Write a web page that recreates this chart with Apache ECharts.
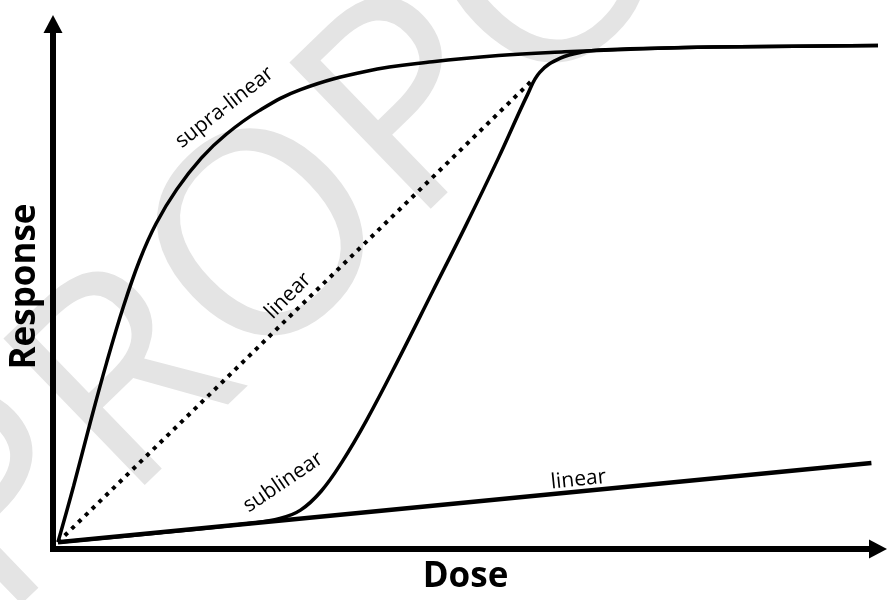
<!DOCTYPE html>
<html>
<head>
<meta charset="utf-8">
<script src="https://cdn.jsdelivr.net/npm/echarts@6.0.0/dist/echarts.min.js"></script>
<style>
  html, body { margin: 0; padding: 0; background: #fff; }
  #main { width: 887px; height: 600px; }
</style>
</head>
<body>
<div id="main"></div>
<script>
// dose / response curves (axis units 0..100)
const supraDose = [0.6, 2.5, 4.5, 6.5, 8.5, 10.5, 12.5, 15, 18, 21, 25, 30, 38, 46, 54, 62, 70, 80, 100]
const supraResp = [1.3, 12, 24, 35.5, 46, 55, 62, 68.5, 74.5, 79, 83.5, 87.5, 91, 92.8, 94, 94.7, 95.2, 95.6, 95.9]

const subDose = [0.6, 13, 24, 27.5, 30, 32.5, 35, 38, 42, 46, 50, 54, 57.5, 59, 61.5, 64.3, 67, 80, 100]
const subResp = [1.3, 3.1, 4.9, 5.8, 7.4, 11, 16.5, 24.5, 36.5, 49, 61.5, 74.5, 86.5, 90.8, 93.5, 94.7, 95.1, 95.6, 95.9]

const dottedDose = [0.6, 57.9]
const dottedResp = [1.3, 89.0]

const lowDose = [0.6, 99.2]
const lowResp = [1.3, 16.4]

// curve labels: text, anchor (dose, response), angle in degrees
const labelText = ['supra-linear', 'linear', 'sublinear', 'linear']
const labelDose = [20.8, 28.5, 27.9, 63.7]
const labelResp = [84.1, 48.2, 12.7, 13.2]
const labelAngle = [38, 45, 34, 6]

const xName = 'Dose'
const yName = 'Response'
const watermark = 'PROPOSAL'

const zip = (xs, ys) => xs.map((x, i) => [x, ys[i]])

const chart = echarts.init(document.getElementById('main'))

const curve = (name, xs, ys, extra) => Object.assign({
  name,
  type: 'line',
  data: zip(xs, ys),
  showSymbol: false,
  smooth: 0.4,
  clip: false,
  lineStyle: { color: '#000', width: 3.5 },
  z: 5
}, extra || {})

const axisLine = {
  show: true,
  symbol: ['none', 'triangle'],
  symbolSize: [19, 18],
  lineStyle: { color: '#000', width: 6, cap: 'square' }
}

chart.setOption({
  animation: false,
  backgroundColor: '#fff',
  grid: { left: 53, right: 9, top: 24, bottom: 47 },
  xAxis: {
    type: 'value', min: 0, max: 100,
    name: xName, nameLocation: 'middle', nameGap: 11,
    nameTextStyle: { fontFamily: 'Open Sans', fontWeight: 'bold', fontSize: 35, color: '#000' },
    axisLine, axisTick: { show: false }, axisLabel: { show: false }, splitLine: { show: false }
  },
  yAxis: {
    type: 'value', min: 0, max: 100,
    name: yName, nameLocation: 'middle', nameGap: 10,
    nameTextStyle: { fontFamily: 'Open Sans', fontWeight: 'bold', fontSize: 35, color: '#000' },
    axisLine, axisTick: { show: false }, axisLabel: { show: false }, splitLine: { show: false }
  },
  series: [
    curve('low linear', lowDose, lowResp, { smooth: false, lineStyle: { color: '#000', width: 4.5 } }),
    curve('linear', dottedDose, dottedResp, {
      smooth: false,
      lineStyle: { color: '#000', width: 4, type: [4, 5.5], cap: 'butt' }
    }),
    curve('sublinear', subDose, subResp),
    curve('supra-linear', supraDose, supraResp)
  ]
})

// labels sit on the curves, placed through the grid's own coordinates
const labels = labelText.map((t, i) => {
  const p = chart.convertToPixel({ gridIndex: 0 }, [labelDose[i], labelResp[i]])
  return {
    type: 'text',
    x: p[0], y: p[1],
    rotation: labelAngle[i] * Math.PI / 180,
    z: 100,
    style: {
      text: t, fill: '#000',
      fontFamily: 'Open Sans', fontSize: 21,
      align: 'center', verticalAlign: 'middle'
    }
  }
})

chart.setOption({
  graphic: [
    {
      type: 'text',
      x: -55, y: 565,
      rotation: 44 * Math.PI / 180,
      z: 0,
      silent: true,
      style: {
        text: watermark, fill: '#e4e4e4',
        fontFamily: 'Open Sans', fontSize: 285,
        align: 'left', verticalAlign: 'middle'
      }
    }
  ].concat(labels)
})
</script>
</body>
</html>
